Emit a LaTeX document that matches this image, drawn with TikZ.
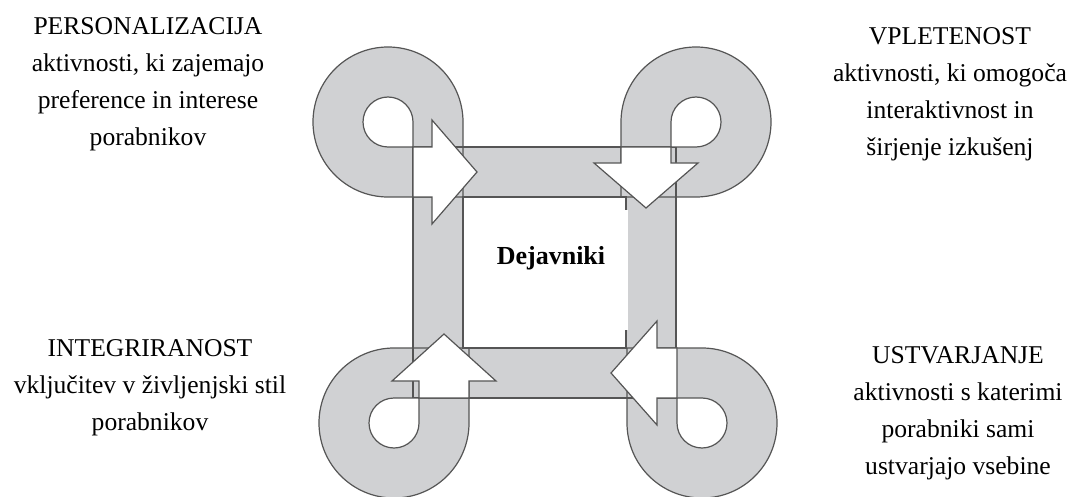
\documentclass[tikz,border=0pt]{standalone}
\usepackage{fontspec}
\setmainfont{Liberation Serif}
\definecolor{band}{RGB}{208,209,211}
\definecolor{edge}{RGB}{85,85,85}
\begin{document}
\begin{tikzpicture}[x=1pt,y=1pt,
  bandfill/.style={draw=band, line width=50pt},
  outl/.style={draw=edge, line width=1.2pt},
  hole/.style={fill=white, draw=edge, line width=1.2pt},
  blockarrow/.style={fill=white, draw=edge, line width=1.2pt, line join=miter},
  lbl/.style={align=center, inner sep=0pt, font=\fontsize{25.6}{37}\selectfont}]
\useasboundingbox (0,0) rectangle (1075,496);
% grey band
\draw[bandfill] (438,123) rectangle (651,324);
\draw[bandfill] (438,324) -- (438,374) arc[start angle=0,end angle=270,radius=50] -- (438,324);
\draw[bandfill] (646,324) -- (646,374) arc[start angle=180,end angle=-90,radius=50] -- (646,324);
\draw[bandfill] (444,123) -- (444,73) arc[start angle=0,end angle=-270,radius=50] -- (444,123);
\draw[bandfill] (652,123) -- (652,73) arc[start angle=180,end angle=450,radius=50] -- (652,123);
% frame edges
\draw[outl] (413,98) rectangle (676,349);
\draw[outl] (463,148) rectangle (626,299);
\path[fill=white] (470,166) rectangle (627.6,286);
% loop edges
\draw[outl] (463,299) -- (463,374) arc[start angle=0,end angle=270,radius=75] -- cycle;
\draw[hole] (413,374) arc[start angle=0,end angle=270,radius=25] -- (413,349) -- cycle;
\draw[outl] (621,299) -- (621,374) arc[start angle=180,end angle=-90,radius=75] -- cycle;
\draw[hole] (671,374) arc[start angle=180,end angle=-90,radius=25] -- (671,349) -- cycle;
\draw[outl] (627,148) -- (627,73) arc[start angle=180,end angle=450,radius=75] -- cycle;
\draw[hole] (677,73) arc[start angle=180,end angle=450,radius=25] -- (677,98) -- cycle;
\draw[outl] (469,148) -- (469,73) arc[start angle=0,end angle=-270,radius=75] -- cycle;
\draw[hole] (419,73) arc[start angle=0,end angle=-270,radius=25] -- (419,98) -- cycle;
% block arrows
\draw[blockarrow] (413,299) -- (413,349) -- (432,349) -- (432,376) -- (477,324) -- (432,272) -- (432,299) -- cycle;
\draw[blockarrow] (621,349) -- (671,349) -- (671,333) -- (698,333) -- (646,288) -- (594,333) -- (621,333) -- cycle;
\draw[blockarrow] (419,98) -- (469,98) -- (469,115) -- (496,115) -- (444,162) -- (392,115) -- (419,115) -- cycle;
\draw[blockarrow] (677,148) -- (677,98) -- (657,98) -- (657,71) -- (611,123) -- (657,175) -- (657,148) -- cycle;
% texts
\node[inner sep=0pt, font=\bfseries\fontsize{26}{30}\selectfont] (dej) at (551,238) {Dejavniki};
\node[lbl] (pers) at (148,412) {PERSONALIZACIJA\\aktivnosti, ki zajemajo\\preference in interese\\porabnikov};
\node[lbl] (vple) at (950,402) {VPLETENOST\\aktivnosti, ki omogoča\\interaktivnost in\\širjenje izkušenj};
\node[lbl] (integ) at (150,108) {INTEGRIRANOST\\vključitev v življenjski stil\\porabnikov};
\node[lbl] (ustv) at (958,83) {USTVARJANJE\\aktivnosti s katerimi\\porabniki sami\\ustvarjajo vsebine};
\end{tikzpicture}
\end{document}
